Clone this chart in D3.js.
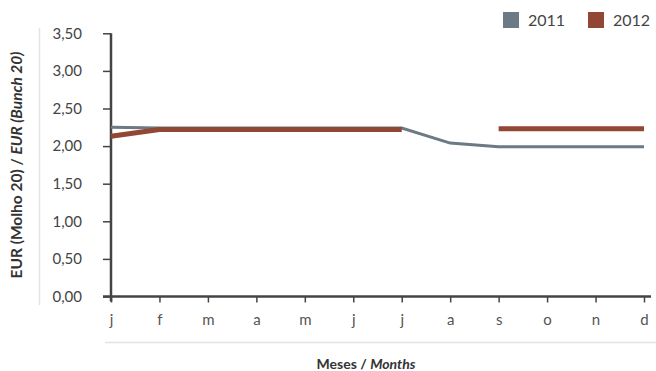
<!DOCTYPE html>
<html><head><meta charset="utf-8">
<script src="https://cdn.jsdelivr.net/npm/d3@7"></script>
<style>body{margin:0;background:#fff}svg{display:block}text{font-family:Lato,"Open Sans",sans-serif}</style>
</head><body><svg id="c" width="656" height="371"></svg>
<script>
const months = ["j","f","m","a","m","j","j","a","s","o","n","d"];
const series2011 = [2.25,2.24,2.24,2.24,2.24,2.24,2.24,2.04,1.99,1.99,1.99,1.99];
const series2012 = [2.13,2.22,2.22,2.22,2.22,2.22,2.22,null,2.23,2.23,2.23,2.23];
const yTicks = [0,0.5,1,1.5,2,2.5,3,3.5];
const seriesNames = ["2011","2012"];
const colors = ["#6b7a84","#924634"];

const svg = d3.select("#c");
const x = d3.scalePoint().domain(d3.range(12)).range([111,644]);
const y = d3.scaleLinear().domain([0,3.5]).range([296.5,33.3]);
const fmt = v => d3.format(".2f")(v).replace(".",",");

// frame lines
svg.append("line").attr("x1",39.5).attr("x2",39.5).attr("y1",28).attr("y2",305).attr("stroke","#e3e3e3").attr("stroke-width",1.5);
svg.append("line").attr("x1",105).attr("x2",656).attr("y1",342.5).attr("y2",342.5).attr("stroke","#e3e3e3").attr("stroke-width",1.5);

// y axis
const ya = svg.append("g").attr("transform","translate(111,0)")
  .call(d3.axisLeft(y).tickValues(yTicks).tickFormat(fmt).tickSize(8).tickPadding(21));
ya.select(".domain").attr("stroke","#444").attr("stroke-width",2.5).attr("d","M0,"+y(3.5)+"V"+(y(0)+5));
ya.selectAll(".tick line").attr("stroke","#444").attr("stroke-width",1.5);
ya.selectAll(".tick text").attr("fill","#444").style("font-size","15px");

// x axis
const xa = svg.append("g").attr("transform","translate(0,296.5)")
  .call(d3.axisBottom(x).tickFormat(i=>months[i]).tickSize(6).tickPadding(12));
xa.select(".domain").attr("stroke","#444").attr("stroke-width",2.5).attr("d","M103,0H651");
xa.selectAll(".tick line").attr("stroke","#444").attr("stroke-width",1.5);
xa.selectAll(".tick text").attr("fill","#555").style("font-size","15px");

// lines
const line = d3.line().defined(d=>d!=null).x((d,i)=>x(i)).y(d=>y(d));
svg.append("path").datum(series2011).attr("d",line).attr("fill","none").attr("stroke",colors[0]).attr("stroke-width",3);
svg.append("path").datum(series2012).attr("d",line).attr("fill","none").attr("stroke",colors[1]).attr("stroke-width",5);

// legend
const lg = [{x:503,tx:528},{x:588,tx:613}];
seriesNames.forEach((n,i)=>{
  svg.append("rect").attr("x",lg[i].x).attr("y",12).attr("width",16).attr("height",16).attr("fill",colors[i]);
  svg.append("text").attr("x",lg[i].tx).attr("y",26).attr("fill","#444").style("font-size","16px").text(n);
});

// axis titles
const yt = svg.append("text").attr("transform","translate(22,165) rotate(-90)").attr("text-anchor","middle")
  .attr("fill","#333").style("font-size","15.5px").style("font-weight","bold");
yt.append("tspan").text("EUR (Molho 20) / ");
yt.append("tspan").style("font-style","italic").text("EUR (Bunch 20)");
const xt = svg.append("text").attr("x",366).attr("y",369).attr("text-anchor","middle")
  .attr("fill","#333").style("font-size","14px").style("font-weight","bold");
xt.append("tspan").text("Meses / ");
xt.append("tspan").style("font-style","italic").text("Months");
</script></body></html>
